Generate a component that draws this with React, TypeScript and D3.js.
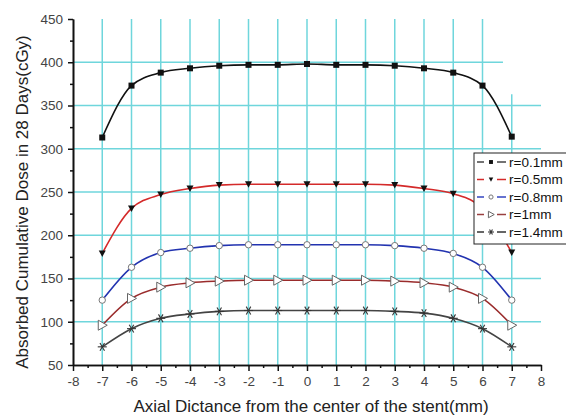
import React, { useEffect, useRef } from 'react';
import * as d3 from 'd3';

// distance from the stent centre (mm)
const distances = [-7, -6, -5, -4, -3, -2, -1, 0, 1, 2, 3, 4, 5, 6, 7];

// dose values (cGy)
const r01 = [313, 373, 388, 393, 396, 397, 397, 398, 397, 397, 396, 393, 388, 373, 314];
const r05 = [179, 231, 247, 254, 258, 259, 259, 259, 259, 259, 258, 254, 248, 231, 180];
const r08 = [125, 163, 180, 185, 188, 189, 189, 189, 189, 189, 188, 185, 179, 163, 125];
const r1 = [96, 127, 140, 145, 147, 148, 148, 148, 148, 148, 147, 145, 140, 127, 96];
const r14 = [71, 92, 104, 109, 112, 113, 113, 113, 113, 113, 112, 110, 104, 92, 71];

const seriesLabels = ['r=0.1mm', 'r=0.5mm', 'r=0.8mm', 'r=1mm', 'r=1.4mm'];
const xTicks = [-8, -7, -6, -5, -4, -3, -2, -1, 0, 1, 2, 3, 4, 5, 6, 7, 8];
const yTicks = [50, 100, 150, 200, 250, 300, 350, 400, 450];

const FONT = "Arial, 'Liberation Sans', sans-serif";
const GRID = '#6fd6dc';

type Marker = 'square' | 'down' | 'circle' | 'right' | 'star';

const App = () => {
  const svgRef = useRef<SVGSVGElement>(null);

  useEffect(() => {
    const svg = d3.select(svgRef.current);
    svg.selectAll('*').remove();

    const W = 566;
    const H = 417;
    svg.attr('width', W).attr('height', H);

    const x = d3.scaleLinear().domain([-8, 8]).range([73, 541]);
    const y = d3.scaleLinear().domain([50, 450]).range([365, 19]);

    const series = [
      { label: seriesLabels[0], values: r01, color: '#111', legendColor: '#444', marker: 'square' as Marker },
      { label: seriesLabels[1], values: r05, color: '#d42a2a', legendColor: '#d42a2a', marker: 'down' as Marker },
      { label: seriesLabels[2], values: r08, color: '#2233b0', legendColor: '#3344c0', marker: 'circle' as Marker },
      { label: seriesLabels[3], values: r1, color: '#9a2c2c', legendColor: '#9a4040', marker: 'right' as Marker },
      { label: seriesLabels[4], values: r14, color: '#444', legendColor: '#333', marker: 'star' as Marker }
    ];

    // grid
    const grid = svg.append('g');
    distances.forEach(d => {
      grid.append('line')
        .attr('x1', x(d)).attr('x2', x(d))
        .attr('y1', d === 7 ? y(363) : y(450)).attr('y2', y(50))
        .attr('stroke', GRID).attr('stroke-width', 1.5);
    });
    yTicks.filter(v => v > 50 && v < 450).forEach(v => {
      grid.append('line')
        .attr('x1', x(-8)).attr('x2', v === 400 ? x(6.7) : x(8))
        .attr('y1', y(v)).attr('y2', y(v))
        .attr('stroke', GRID).attr('stroke-width', 1.5);
    });

    // curves
    const line = d3.line<number>()
      .x((_, i) => x(distances[i]))
      .y(v => y(v))
      .curve(d3.curveMonotoneX);

    series.forEach(s => {
      svg.append('path')
        .datum(s.values)
        .attr('fill', 'none')
        .attr('stroke', s.color)
        .attr('stroke-width', 1.6)
        .attr('d', line);
    });

    const drawMarker = (g: any, kind: Marker, cx: number, cy: number, k = 1) => {
      if (kind === 'square') {
        g.append('rect').attr('x', cx - 3 * k).attr('y', cy - 3 * k).attr('width', 6 * k).attr('height', 6 * k)
          .attr('fill', '#111');
      } else if (kind === 'down') {
        g.append('path').attr('d', `M${cx - 3.5 * k},${cy - 3 * k}L${cx + 3.5 * k},${cy - 3 * k}L${cx},${cy + 3.5 * k}Z`)
          .attr('fill', '#111');
      } else if (kind === 'circle') {
        g.append('circle').attr('cx', cx).attr('cy', cy).attr('r', 3.2 * k)
          .attr('fill', '#fff').attr('stroke', '#777').attr('stroke-width', 1);
      } else if (kind === 'right') {
        g.append('path').attr('d', `M${cx - 4 * k},${cy - 5 * k}L${cx + 5 * k},${cy}L${cx - 4 * k},${cy + 5 * k}Z`)
          .attr('fill', '#fff').attr('stroke', '#666').attr('stroke-width', 1);
      } else {
        const r = 4.5 * k;
        [0, 60, 120].forEach(a => {
          const rad = (a * Math.PI) / 180;
          g.append('line')
            .attr('x1', cx - r * Math.cos(rad)).attr('y1', cy - r * Math.sin(rad))
            .attr('x2', cx + r * Math.cos(rad)).attr('y2', cy + r * Math.sin(rad))
            .attr('stroke', '#333').attr('stroke-width', 1.1);
        });
      }
    };

    series.forEach(s => {
      const g = svg.append('g');
      s.values.forEach((v, i) => drawMarker(g, s.marker, x(distances[i]), y(v)));
    });

    // axes
    const xAxis = svg.append('g')
      .attr('transform', `translate(0,${y(50)})`)
      .call(d3.axisBottom(x).tickValues(xTicks).tickFormat(d => String(d)).tickSize(6).tickSizeOuter(0));
    const xMinor = svg.append('g')
      .attr('transform', `translate(0,${y(50)})`)
      .call(d3.axisBottom(x).tickValues(d3.range(-7.5, 8, 1)).tickFormat(() => '').tickSize(3).tickSizeOuter(0));
    const yAxis = svg.append('g')
      .attr('transform', `translate(${x(-8)},0)`)
      .call(d3.axisLeft(y).tickValues(yTicks).tickFormat(d => String(d)).tickSize(5).tickSizeOuter(0));
    const yMinor = svg.append('g')
      .attr('transform', `translate(${x(-8)},0)`)
      .call(d3.axisLeft(y).tickValues(d3.range(75, 450, 50)).tickFormat(() => '').tickSize(3).tickSizeOuter(0));

    [xAxis, xMinor, yAxis, yMinor].forEach(a => {
      a.select('.domain').attr('stroke', '#111').attr('stroke-width', 1.6);
      a.selectAll('.tick line').attr('stroke', '#111').attr('stroke-width', 1.5);
    });
    xAxis.selectAll('.tick text')
      .attr('font-family', FONT).attr('font-size', 13.5).attr('fill', '#444').attr('y', 11);
    yAxis.selectAll('.tick text')
      .attr('font-family', FONT).attr('font-size', 13.5).attr('fill', '#444').attr('x', -10);

    // axis titles
    svg.append('text')
      .attr('x', 311).attr('y', 412)
      .attr('text-anchor', 'middle')
      .attr('font-family', FONT).attr('font-size', 17).attr('fill', '#222')
      .text('Axial Dictance from the center of the stent(mm)');
    svg.append('text')
      .attr('transform', 'translate(28,202) rotate(-90)')
      .attr('text-anchor', 'middle')
      .attr('font-family', FONT).attr('font-size', 17).attr('fill', '#222')
      .text('Absorbed Cumulative Dose in 28 Days(cGy)');

    // legend (box runs past the right edge, as in the original)
    const legend = svg.append('g').attr('transform', 'translate(474,153)');
    legend.append('rect')
      .attr('x', 0).attr('y', 0).attr('width', 110).attr('height', 91)
      .attr('fill', '#fff').attr('stroke', '#222').attr('stroke-width', 1);
    series.forEach((s, i) => {
      const ly = 9 + i * 17.5;
      const row = legend.append('g');
      row.append('line').attr('x1', 3).attr('x2', 10).attr('y1', ly).attr('y2', ly)
        .attr('stroke', s.legendColor).attr('stroke-width', 1.5);
      row.append('line').attr('x1', 23).attr('x2', 32).attr('y1', ly).attr('y2', ly)
        .attr('stroke', s.legendColor).attr('stroke-width', 1.5);
      drawMarker(row, s.marker, 17, ly, 0.65);
      row.append('text')
        .attr('x', 35).attr('y', ly).attr('dy', '0.35em')
        .attr('font-family', FONT).attr('font-size', 13.5).attr('fill', '#111')
        .text(s.label);
    });
  }, []);

  return <svg ref={svgRef} style={{ position: 'absolute', left: 0, top: 0 }}></svg>;
};

export default App;
